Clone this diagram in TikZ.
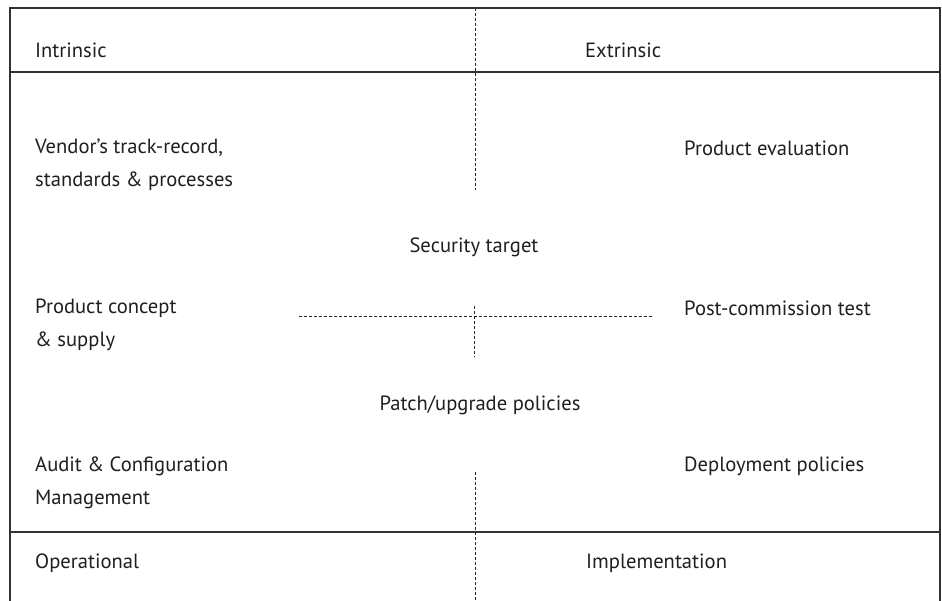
\documentclass[tikz,border=0pt]{standalone}
\usepackage{fontspec}
\setmainfont{PT Sans}
\begin{document}
\begin{tikzpicture}[x=1pt,y=-1pt,
  frame/.style={line width=1.3pt,draw=black!80},
  divider/.style={line width=1pt,draw=black!85,dash pattern=on 3pt off 2pt},
  lbl/.style={font=\fontsize{20.6}{33}\selectfont,text=black!88,inner sep=0pt,anchor=west,align=left},
  mid/.style={font=\fontsize{20.6}{33}\selectfont,text=black!88,inner sep=0pt,anchor=center}]
\useasboundingbox (0,0) rectangle (942,601);
% outer frame, open at the bottom
\coordinate (tl) at (10,8);
\coordinate (tr) at (940,8);
\coordinate (bl) at (10,601);
\coordinate (br) at (940,601);
\draw[frame] (bl) -- (tl) -- (tr) -- (br);
% header and footer rules
\coordinate (hl) at (10,72);
\coordinate (hr) at (940,72);
\coordinate (fl) at (10,532);
\coordinate (fr) at (940,532);
\draw[frame] (hl) -- (hr);
\draw[frame] (fl) -- (fr);
% central dashed axes
\coordinate (v1a) at (475,8);
\coordinate (v1b) at (475,190);
\coordinate (v2a) at (474,306);
\coordinate (v2b) at (474,357);
\coordinate (v3a) at (475,472);
\coordinate (v3b) at (475,601);
\coordinate (ha) at (299,317);
\coordinate (hb) at (653,317);
\draw[divider] (v1a) -- (v1b);
\draw[divider] (v2a) -- (v2b);
\draw[divider] (v3a) -- (v3b);
\draw[divider] (ha) -- (hb);
% labels
\node[lbl] (intr) at (35,50) {Intrinsic};
\node[lbl] (extr) at (585,50) {Extrinsic};
\node[lbl] (vend) at (35,165) {Vendor’s track-record,\\standards \& processes};
\node[lbl] (peval) at (684,148) {Product evaluation};
\node[mid] (sect) at (474,247) {Security target};
\node[lbl] (pcon) at (35,325) {Product concept\\\& supply};
\node[lbl] (post) at (684,308) {Post-commission test};
\node[mid] (patch) at (480,405) {Patch/upgrade policies};
\node[lbl] (audit) at (35,483) {Audit \& Configuration\\Management};
\node[lbl] (depl) at (684,466) {Deployment policies};
\node[lbl] (oper) at (35,563) {Operational};
\node[lbl] (impl) at (586,563) {Implementation};
\end{tikzpicture}
\end{document}
